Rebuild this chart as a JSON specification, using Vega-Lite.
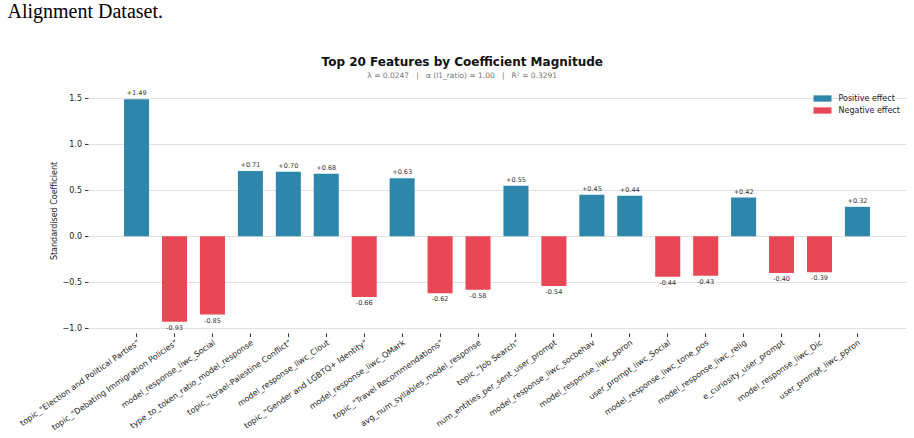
{
  "$schema": "https://vega.github.io/schema/vega-lite/v6.json",
  "padding": {"left": 7, "top": 1, "right": 5, "bottom": 0},
  "background": "white",
  "title": {
    "text": "Alignment Dataset.",
    "anchor": "start",
    "frame": "bounds",
    "font": "Liberation Serif",
    "fontSize": 20,
    "fontWeight": "normal",
    "color": "#000000",
    "offset": 34,
    "dx": -11
  },
  "datasets": {
    "coefs": [
      {"feature": "topic_\"Election and Political Parties\"", "coef": 1.49, "effect": "Positive effect"},
      {"feature": "topic_\"Debating Immigration Policies\"", "coef": -0.93, "effect": "Negative effect"},
      {"feature": "model_response_liwc_Social", "coef": -0.85, "effect": "Negative effect"},
      {"feature": "type_to_token_ratio_model_response", "coef": 0.71, "effect": "Positive effect"},
      {"feature": "topic_\"Israel-Palestine Conflict\"", "coef": 0.70, "effect": "Positive effect"},
      {"feature": "model_response_liwc_Clout", "coef": 0.68, "effect": "Positive effect"},
      {"feature": "topic_\"Gender and LGBTQ+ Identity\"", "coef": -0.66, "effect": "Negative effect"},
      {"feature": "model_response_liwc_QMark", "coef": 0.63, "effect": "Positive effect"},
      {"feature": "topic_\"Travel Recommendations\"", "coef": -0.62, "effect": "Negative effect"},
      {"feature": "avg_num_syllables_model_response", "coef": -0.58, "effect": "Negative effect"},
      {"feature": "topic_\"Job Search\"", "coef": 0.55, "effect": "Positive effect"},
      {"feature": "num_entities_per_sent_user_prompt", "coef": -0.54, "effect": "Negative effect"},
      {"feature": "model_response_liwc_socbehav", "coef": 0.45, "effect": "Positive effect"},
      {"feature": "model_response_liwc_ppron", "coef": 0.44, "effect": "Positive effect"},
      {"feature": "user_prompt_liwc_Social", "coef": -0.44, "effect": "Negative effect"},
      {"feature": "model_response_liwc_tone_pos", "coef": -0.43, "effect": "Negative effect"},
      {"feature": "model_response_liwc_relig", "coef": 0.42, "effect": "Positive effect"},
      {"feature": "e_curiosity_user_prompt", "coef": -0.40, "effect": "Negative effect"},
      {"feature": "model_response_liwc_Dic", "coef": -0.39, "effect": "Negative effect"},
      {"feature": "user_prompt_liwc_ppron", "coef": 0.32, "effect": "Positive effect"}
    ]
  },
  "vconcat": [
    {
      "title": {
        "text": "Top 20 Features by Coefficient Magnitude",
        "subtitle": "λ = 0.0247\u00a0\u00a0\u00a0|\u00a0\u00a0\u00a0α (l1_ratio) = 1.00\u00a0\u00a0\u00a0|\u00a0\u00a0\u00a0R² = 0.3291",
        "anchor": "middle",
        "frame": "bounds",
        "font": "DejaVu Sans",
        "fontSize": 12,
        "fontWeight": "bold",
        "color": "#111111",
        "subtitleFont": "DejaVu Sans",
        "subtitleFontSize": 7.5,
        "subtitleColor": "#777777",
        "subtitlePadding": 3,
        "offset": 8
      },
      "width": 818,
      "height": 245,
      "data": {"name": "coefs"},
      "transform": [
        {"calculate": "(datum.coef > 0 ? '+' : '-') + format(abs(datum.coef), '.2f')", "as": "label"}
      ],
      "encoding": {
        "x": {
          "field": "feature",
          "type": "nominal",
          "sort": null,
          "scale": {"paddingInner": 0.34, "paddingOuter": 0.95},
          "axis": {
            "title": null,
            "labelAngle": -35,
            "labelAlign": "right",
            "labelBaseline": "top",
            "labelFontSize": 8,
            "labelColor": "#222222",
            "labelLimit": 400,
            "labelPadding": 2,
            "domain": false,
            "ticks": true,
            "tickSize": 3.5,
            "tickColor": "#333333",
            "grid": false
          }
        }
      },
      "layer": [
        {
          "mark": {"type": "bar"},
          "encoding": {
            "y": {
              "field": "coef",
              "type": "quantitative",
              "scale": {"domain": [-1.051, 1.611], "nice": false, "zero": false},
              "axis": {
                "title": "Standardised Coefficient",
                "titleFontSize": 8,
                "titleFontWeight": "normal",
                "titleColor": "#222222",
                "titlePadding": 4,
                "values": [-1, -0.5, 0, 0.5, 1, 1.5],
                "format": ".1f",
                "labelFontSize": 8,
                "labelColor": "#222222",
                "labelPadding": 3,
                "domain": false,
                "ticks": true,
                "tickSize": 3.5,
                "tickColor": "#333333",
                "grid": true,
                "gridColor": "#dedede",
                "gridWidth": 0.9
              }
            },
            "color": {
              "field": "effect",
              "type": "nominal",
              "scale": {"domain": ["Positive effect", "Negative effect"], "range": ["#2E86AB", "#E84855"]},
              "legend": {
                "title": null,
                "orient": "top-right",
                "offset": 6,
                "padding": 0,
                "labelFontSize": 8,
                "labelColor": "#222222",
                "labelOffset": 11.5,
                "rowPadding": 3,
                "symbolType": "M-2,-0.7L2,-0.7L2,0.7L-2,0.7Z",
                "symbolSize": 81,
                "symbolStrokeWidth": 0
              }
            }
          }
        },
        {
          "mark": {"type": "rule", "color": "#aaaaaa", "strokeWidth": 1.2},
          "encoding": {"y": {"datum": 0, "type": "quantitative"}}
        },
        {
          "transform": [{"filter": "datum.coef > 0"}],
          "mark": {"type": "text", "baseline": "bottom", "dy": -3, "fontSize": 6.5, "color": "#333333"},
          "encoding": {
            "y": {"field": "coef", "type": "quantitative"},
            "text": {"field": "label"}
          }
        },
        {
          "transform": [{"filter": "datum.coef < 0"}],
          "mark": {"type": "text", "baseline": "top", "dy": 3, "fontSize": 6.5, "color": "#333333"},
          "encoding": {
            "y": {"field": "coef", "type": "quantitative"},
            "text": {"field": "label"}
          }
        }
      ]
    }
  ],
  "config": {
    "font": "DejaVu Sans",
    "view": {"stroke": null}
  }
}
